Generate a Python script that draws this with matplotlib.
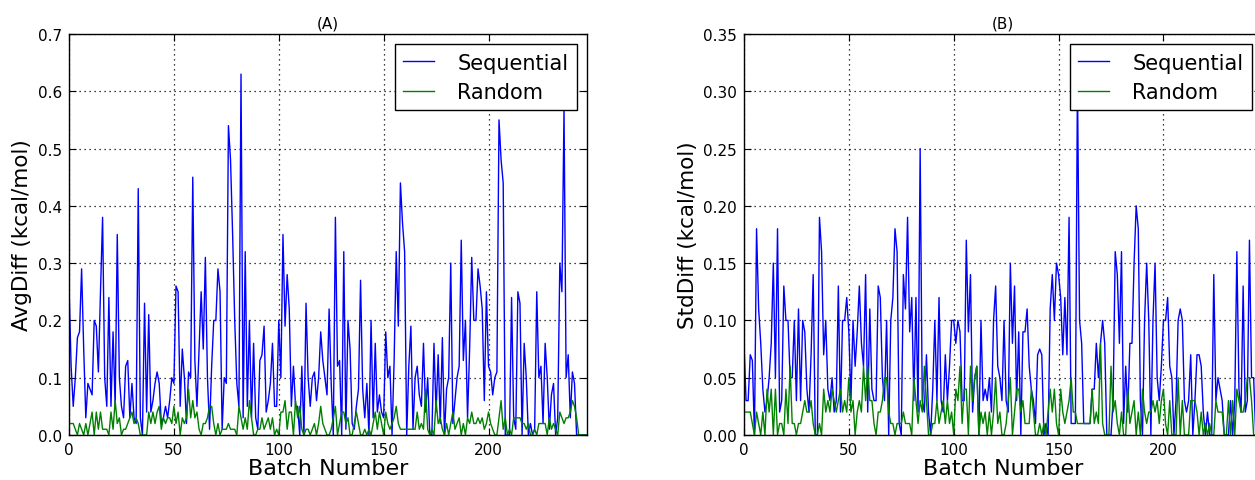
import numpy as np
import matplotlib
matplotlib.use("Agg")
import matplotlib.pyplot as plt
from matplotlib.ticker import FormatStrFormatter

## Data (one value per batch)
# (A) average difference, kcal/mol
avg_seq = [
    0.26, 0.12, 0.05, 0.10, 0.17, 0.18, 0.29, 0.15, 0.03, 0.09,
    0.08, 0.07, 0.20, 0.19, 0.11, 0.25, 0.38, 0.10, 0.05, 0.24,
    0.05, 0.18, 0.05, 0.35, 0.10, 0.05, 0.03, 0.12, 0.13, 0.03,
    0.09, 0.03, 0.02, 0.43, 0.03, 0.00, 0.23, 0.04, 0.21, 0.04,
    0.06, 0.09, 0.11, 0.09, 0.02, 0.03, 0.05, 0.03, 0.06, 0.10,
    0.09, 0.26, 0.25, 0.05, 0.15, 0.10, 0.02, 0.11, 0.10, 0.45,
    0.13, 0.05, 0.15, 0.25, 0.15, 0.31, 0.10, 0.01, 0.12, 0.20,
    0.20, 0.29, 0.25, 0.01, 0.10, 0.09, 0.54, 0.48, 0.35, 0.20,
    0.09, 0.05, 0.63, 0.03, 0.32, 0.05, 0.20, 0.03, 0.16, 0.03,
    0.01, 0.13, 0.14, 0.19, 0.04, 0.06, 0.09, 0.16, 0.05, 0.05,
    0.20, 0.10, 0.35, 0.19, 0.28, 0.22, 0.05, 0.12, 0.05, 0.05,
    0.00, 0.12, 0.00, 0.23, 0.10, 0.05, 0.10, 0.11, 0.06, 0.10,
    0.18, 0.13, 0.10, 0.07, 0.22, 0.09, 0.00, 0.38, 0.12, 0.13,
    0.00, 0.32, 0.01, 0.20, 0.15, 0.02, 0.01, 0.05, 0.08, 0.27,
    0.08, 0.03, 0.09, 0.00, 0.20, 0.03, 0.16, 0.04, 0.07, 0.04,
    0.03, 0.18, 0.10, 0.12, 0.00, 0.13, 0.32, 0.19, 0.44, 0.37,
    0.32, 0.00, 0.12, 0.19, 0.01, 0.10, 0.12, 0.07, 0.05, 0.16,
    0.04, 0.10, 0.00, 0.00, 0.16, 0.04, 0.14, 0.02, 0.17, 0.00,
    0.08, 0.10, 0.30, 0.02, 0.06, 0.10, 0.12, 0.34, 0.13, 0.20,
    0.03, 0.15, 0.31, 0.20, 0.20, 0.29, 0.26, 0.22, 0.06, 0.25,
    0.12, 0.11, 0.07, 0.10, 0.11, 0.55, 0.48, 0.44, 0.00, 0.00,
    0.00, 0.24, 0.03, 0.01, 0.25, 0.23, 0.00, 0.16, 0.10, 0.00,
    0.02, 0.00, 0.01, 0.25, 0.10, 0.12, 0.02, 0.16, 0.10, 0.01,
    0.07, 0.09, 0.00, 0.03, 0.30, 0.25, 0.57, 0.10, 0.14, 0.03,
    0.11, 0.09, 0.00, 0.00, 0.00, 0.00, 0.00, 0.00,
]
avg_rand = [
    0.02, 0.02, 0.02, 0.01, 0.00, 0.02, 0.01, 0.00, 0.02, 0.00,
    0.02, 0.04, 0.00, 0.04, 0.01, 0.04, 0.01, 0.01, 0.01, 0.00,
    0.04, 0.01, 0.06, 0.02, 0.03, 0.00, 0.01, 0.01, 0.02, 0.03,
    0.04, 0.02, 0.03, 0.02, 0.00, 0.00, 0.00, 0.00, 0.04, 0.02,
    0.04, 0.02, 0.04, 0.05, 0.01, 0.03, 0.02, 0.03, 0.03, 0.02,
    0.05, 0.02, 0.04, 0.00, 0.03, 0.02, 0.03, 0.08, 0.03, 0.06,
    0.03, 0.04, 0.01, 0.00, 0.02, 0.02, 0.03, 0.05, 0.05, 0.02,
    0.00, 0.02, 0.00, 0.01, 0.01, 0.01, 0.02, 0.01, 0.01, 0.01,
    0.00, 0.05, 0.03, 0.01, 0.03, 0.01, 0.06, 0.03, 0.00, 0.00,
    0.01, 0.01, 0.03, 0.01, 0.02, 0.03, 0.01, 0.03, 0.00, 0.01,
    0.00, 0.04, 0.04, 0.06, 0.01, 0.04, 0.04, 0.00, 0.06, 0.03,
    0.05, 0.01, 0.00, 0.01, 0.01, 0.00, 0.01, 0.02, 0.00, 0.02,
    0.05, 0.02, 0.01, 0.00, 0.00, 0.01, 0.03, 0.05, 0.00, 0.02,
    0.04, 0.04, 0.02, 0.03, 0.00, 0.00, 0.02, 0.04, 0.02, 0.00,
    0.00, 0.01, 0.00, 0.01, 0.00, 0.02, 0.04, 0.01, 0.04, 0.02,
    0.00, 0.04, 0.02, 0.01, 0.02, 0.03, 0.05, 0.02, 0.01, 0.01,
    0.01, 0.01, 0.01, 0.01, 0.01, 0.01, 0.04, 0.01, 0.02, 0.01,
    0.08, 0.01, 0.00, 0.01, 0.00, 0.06, 0.02, 0.03, 0.01, 0.00,
    0.02, 0.00, 0.02, 0.04, 0.01, 0.02, 0.03, 0.00, 0.02, 0.00,
    0.03, 0.02, 0.04, 0.02, 0.02, 0.03, 0.02, 0.03, 0.01, 0.02,
    0.04, 0.02, 0.01, 0.00, 0.00, 0.03, 0.06, 0.01, 0.03, 0.00,
    0.01, 0.00, 0.03, 0.03, 0.03, 0.03, 0.02, 0.02, 0.01, 0.02,
    0.00, 0.00, 0.01, 0.00, 0.02, 0.02, 0.02, 0.02, 0.00, 0.03,
    0.01, 0.02, 0.01, 0.00, 0.04, 0.03, 0.02, 0.03, 0.03, 0.04,
    0.06, 0.05, 0.03, 0.00, 0.00, 0.00, 0.00, 0.00,
]

# (B) standard deviation difference, kcal/mol
std_seq = [
    0.08, 0.03, 0.03, 0.07, 0.065, 0.00, 0.18, 0.11, 0.08, 0.04,
    0.02, 0.03, 0.05, 0.08, 0.15, 0.05, 0.18, 0.02, 0.03, 0.13,
    0.10, 0.10, 0.05, 0.05, 0.10, 0.03, 0.11, 0.03, 0.10, 0.09,
    0.04, 0.02, 0.07, 0.14, 0.00, 0.00, 0.19, 0.16, 0.07, 0.10,
    0.04, 0.03, 0.05, 0.02, 0.03, 0.13, 0.02, 0.10, 0.10, 0.12,
    0.09, 0.03, 0.10, 0.06, 0.09, 0.13, 0.08, 0.06, 0.14, 0.02,
    0.11, 0.04, 0.03, 0.03, 0.13, 0.12, 0.05, 0.03, 0.10, 0.00,
    0.10, 0.12, 0.18, 0.16, 0.01, 0.00, 0.14, 0.11, 0.19, 0.09,
    0.12, 0.03, 0.12, 0.02, 0.25, 0.03, 0.02, 0.07, 0.02, 0.00,
    0.04, 0.10, 0.03, 0.12, 0.03, 0.02, 0.07, 0.03, 0.06, 0.10,
    0.10, 0.08, 0.10, 0.09, 0.03, 0.03, 0.17, 0.09, 0.14, 0.02,
    0.05, 0.06, 0.00, 0.10, 0.03, 0.04, 0.03, 0.05, 0.02, 0.10,
    0.13, 0.06, 0.05, 0.03, 0.10, 0.03, 0.02, 0.15, 0.08, 0.13,
    0.03, 0.09, 0.00, 0.09, 0.09, 0.11, 0.06, 0.04, 0.03, 0.01,
    0.07, 0.075, 0.07, 0.00, 0.01, 0.00, 0.11, 0.14, 0.10, 0.15,
    0.14, 0.12, 0.07, 0.12, 0.07, 0.19, 0.01, 0.01, 0.01, 0.31,
    0.10, 0.08, 0.01, 0.01, 0.01, 0.01, 0.04, 0.04, 0.08, 0.05,
    0.08, 0.10, 0.08, 0.00, 0.00, 0.00, 0.03, 0.16, 0.14, 0.08,
    0.16, 0.01, 0.06, 0.02, 0.08, 0.08, 0.15, 0.20, 0.18, 0.03,
    0.00, 0.10, 0.15, 0.10, 0.00, 0.10, 0.15, 0.05, 0.03, 0.06,
    0.10, 0.10, 0.12, 0.06, 0.05, 0.00, 0.03, 0.10, 0.11, 0.10,
    0.03, 0.02, 0.03, 0.07, 0.00, 0.03, 0.07, 0.07, 0.06, 0.02,
    0.00, 0.02, 0.00, 0.00, 0.14, 0.03, 0.05, 0.04, 0.03, 0.00,
    0.00, 0.00, 0.03, 0.00, 0.03, 0.16, 0.04, 0.02, 0.13, 0.02,
    0.03, 0.17, 0.05, 0.05, 0.00, 0.00, 0.00, 0.00,
]
std_rand = [
    0.02, 0.02, 0.02, 0.02, 0.01, 0.00, 0.02, 0.01, 0.00, 0.02,
    0.00, 0.04, 0.02, 0.04, 0.00, 0.04, 0.00, 0.01, 0.01, 0.00,
    0.04, 0.01, 0.06, 0.01, 0.01, 0.00, 0.01, 0.01, 0.02, 0.03,
    0.02, 0.02, 0.03, 0.01, 0.00, 0.00, 0.01, 0.00, 0.04, 0.02,
    0.03, 0.02, 0.04, 0.03, 0.02, 0.03, 0.04, 0.02, 0.03, 0.02,
    0.05, 0.02, 0.03, 0.00, 0.02, 0.03, 0.02, 0.06, 0.03, 0.06,
    0.03, 0.03, 0.01, 0.00, 0.02, 0.02, 0.03, 0.05, 0.05, 0.02,
    0.01, 0.01, 0.00, 0.01, 0.01, 0.01, 0.02, 0.01, 0.01, 0.01,
    0.00, 0.05, 0.03, 0.01, 0.03, 0.02, 0.06, 0.03, 0.00, 0.00,
    0.01, 0.01, 0.03, 0.01, 0.02, 0.03, 0.01, 0.03, 0.01, 0.02,
    0.00, 0.04, 0.03, 0.06, 0.01, 0.04, 0.04, 0.00, 0.06, 0.03,
    0.05, 0.06, 0.00, 0.02, 0.01, 0.02, 0.00, 0.02, 0.00, 0.02,
    0.05, 0.01, 0.02, 0.00, 0.00, 0.01, 0.03, 0.05, 0.00, 0.02,
    0.04, 0.04, 0.02, 0.03, 0.01, 0.01, 0.01, 0.04, 0.02, 0.00,
    0.00, 0.01, 0.00, 0.01, 0.00, 0.02, 0.04, 0.02, 0.04, 0.01,
    0.00, 0.04, 0.02, 0.01, 0.02, 0.03, 0.05, 0.02, 0.02, 0.01,
    0.01, 0.01, 0.01, 0.01, 0.01, 0.01, 0.04, 0.01, 0.02, 0.01,
    0.08, 0.01, 0.00, 0.00, 0.00, 0.06, 0.02, 0.03, 0.01, 0.00,
    0.02, 0.00, 0.00, 0.04, 0.01, 0.02, 0.03, 0.00, 0.02, 0.00,
    0.04, 0.02, 0.01, 0.02, 0.02, 0.03, 0.02, 0.03, 0.01, 0.03,
    0.04, 0.01, 0.00, 0.03, 0.00, 0.00, 0.00, 0.05, 0.00, 0.03,
    0.00, 0.00, 0.00, 0.03, 0.03, 0.03, 0.02, 0.00, 0.02, 0.00,
    0.01, 0.00, 0.01, 0.00, 0.00, 0.03, 0.02, 0.02, 0.02, 0.00,
    0.00, 0.03, 0.00, 0.03, 0.00, 0.04, 0.03, 0.02, 0.02, 0.03,
    0.05, 0.05, 0.03, 0.00, 0.00, 0.00, 0.00, 0.00,
]

series_labels = ["Sequential", "Random"]
panel_titles = ["(A)", "(B)"]
y_labels = ["AvgDiff (kcal/mol)", "StdDiff (kcal/mol)"]
x_label = "Batch Number"
x_ticks = [0, 50, 100, 150, 200]
y_ticks_a = [0.0, 0.1, 0.2, 0.3, 0.4, 0.5, 0.6, 0.7]
y_ticks_b = [0.00, 0.05, 0.10, 0.15, 0.20, 0.25, 0.30, 0.35]


def panel(ax, seq, rand, title, ylabel, yticks, fmt):
    batch = np.arange(len(seq))
    ax.plot(batch, seq, color="#0000ff", lw=1.0, label=series_labels[0])
    ax.plot(batch, rand, color="#008000", lw=1.0, label=series_labels[1])
    ax.set_xlim(0, len(seq) - 1)
    ax.set_ylim(yticks[0], yticks[-1])
    ax.set_xticks(x_ticks)
    ax.set_yticks(yticks)
    ax.yaxis.set_major_formatter(FormatStrFormatter(fmt))
    ax.tick_params(direction="in", top=True, right=True, length=5,
                   labelsize=11, pad=5)
    ax.grid(True, color="black", ls=(0, (1, 3)), lw=0.9)
    ax.set_title(title, fontsize=11, pad=5)
    ax.set_xlabel(x_label, fontsize=16, labelpad=1)
    ax.set_ylabel(ylabel, fontsize=15.5, labelpad=4)
    for s in ax.spines.values():
        s.set_linewidth(1.0)
    leg = ax.legend(loc="upper right", fontsize=15, fancybox=False,
                    framealpha=1, edgecolor="black", handlelength=1.5,
                    handletextpad=1.1, borderpad=0.4, labelspacing=0.45,
                    borderaxespad=0.5)
    leg.get_frame().set_linewidth(1.0)


fig = plt.figure(figsize=(12.55, 4.81), dpi=100)
ax_a = fig.add_axes([0.0550, 0.0936, 0.4128, 0.8337])
ax_b = fig.add_axes([0.5928, 0.0936, 0.4128, 0.8337])

panel(ax_a, avg_seq, avg_rand, panel_titles[0], y_labels[0], y_ticks_a, "%.1f")
panel(ax_b, std_seq, std_rand, panel_titles[1], y_labels[1], y_ticks_b, "%.2f")

fig.savefig("out.png", dpi=100)
